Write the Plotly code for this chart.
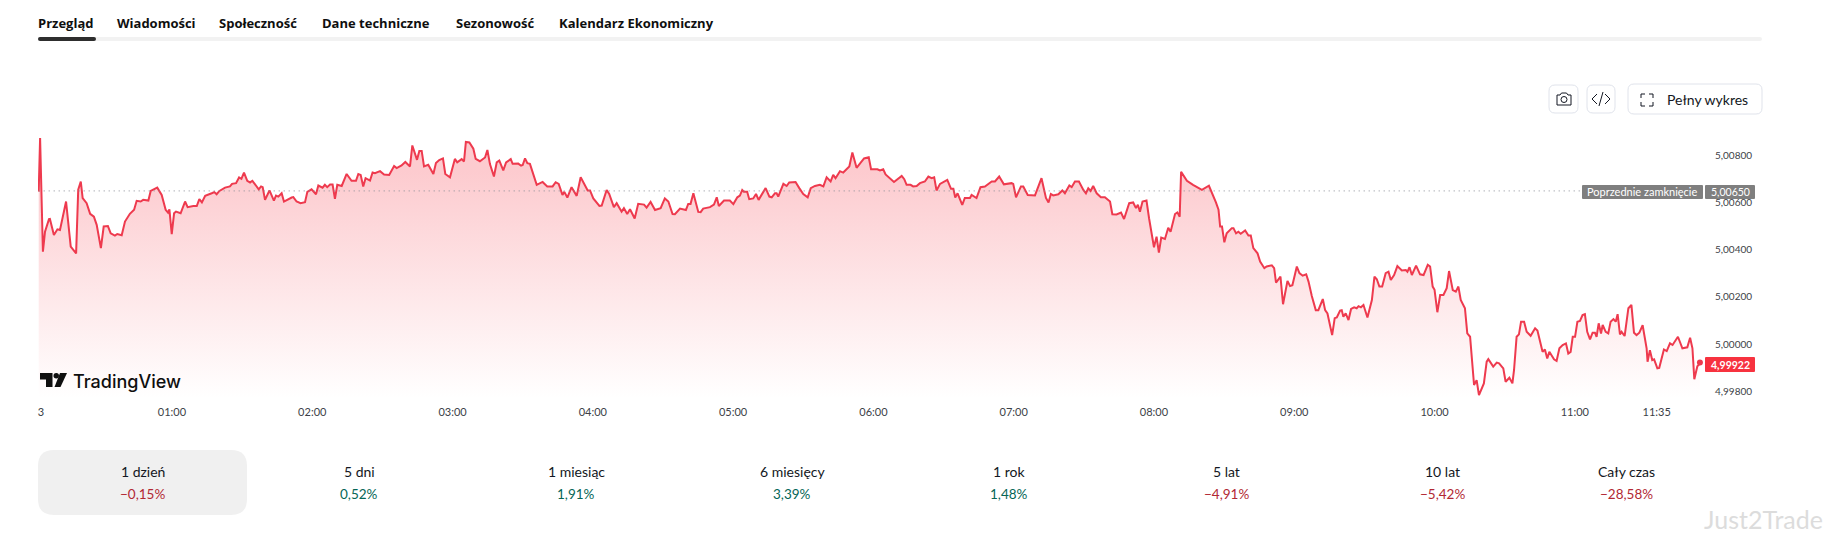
import plotly.graph_objects as go

min_a = [3, 3.6, 4.8, 5.7, 7.4, 7.8, 9.5, 11, 12.1, 14.7, 16.7, 19, 19.9, 21, 21.8, 23.5, 25, 26.6, 27.8, 29, 29.6, 30.8, 32.6, 33.8, 35.6, 36.6, 38.5, 39.9, 42, 43.8, 44.9, 46.6, 47.7, 49.9, 50.9, 53.7, 55.6, 57.3, 58.3, 58.9, 59.9, 60.9, 61.7, 63.7, 65.6, 66.7, 67.7]
px_a = [5.00647, 5.00875, 5.00392, 5.00477, 5.0053, 5.00531, 5.00463, 5.00487, 5.00484, 5.00605, 5.00414, 5.00385, 5.00655, 5.0069, 5.0062, 5.00598, 5.00553, 5.00541, 5.00506, 5.00435, 5.00407, 5.00499, 5.00501, 5.0047, 5.0046, 5.00467, 5.00462, 5.0052, 5.00553, 5.0057, 5.00608, 5.00605, 5.00612, 5.00609, 5.0065, 5.00664, 5.00633, 5.0057, 5.00558, 5.00572, 5.00467, 5.00555, 5.00562, 5.00555, 5.00605, 5.00581, 5.00584]

min_b = [69.1, 70.6, 71.7, 72.8, 74.2, 77, 78.1, 79.1, 80.3, 82.7, 84.8, 85.7, 87.4, 88.7, 89.7, 90.8, 92.2, 93.4, 94.4, 97.1, 98.1, 98.8, 99.8, 101.7, 103.6, 104.5, 105.5, 106.9, 107.9, 111.2, 111.9, 113.3, 115, 116.9, 117.9, 119.7, 121.6, 122.6]
px_b = [5.00586, 5.00586, 5.00615, 5.00601, 5.00629, 5.0064, 5.00645, 5.00636, 5.0065, 5.00664, 5.00669, 5.0068, 5.00683, 5.00707, 5.00701, 5.00728, 5.00693, 5.00686, 5.00693, 5.00657, 5.00669, 5.00666, 5.00612, 5.00652, 5.00609, 5.0063, 5.00626, 5.0064, 5.00605, 5.00622, 5.00624, 5.00605, 5.00598, 5.00602, 5.00646, 5.00657, 5.00636, 5.00673]

min_c = [124.4, 125.4, 126.4, 127.6, 128.7, 129.7, 130.7, 132.6, 134.7, 136.8, 138.7, 139.7, 140.7, 141.8, 142.8, 144.7, 145.8, 146.8, 149, 150.7, 152.9, 155, 156.1, 158.2, 159.8, 161.8, 162.8, 164.8, 165.8, 166.8, 167.8, 169.6, 171.8, 172.9, 174.3, 175.9, 176.9, 178.9, 181, 182, 183.9, 184.9, 185.7, 187.2, 188.9, 189.9, 191.7, 193.9, 194.9, 196, 197.7, 198.9, 200, 201.7, 202.9, 204.9, 205.7, 208.1, 209.3, 210, 211, 212, 213.1]
px_c = [5.00664, 5.00676, 5.00666, 5.00677, 5.00677, 5.00616, 5.00676, 5.00671, 5.00722, 5.00693, 5.00693, 5.00722, 5.00718, 5.00669, 5.00704, 5.00694, 5.00728, 5.00725, 5.00734, 5.0072, 5.00718, 5.00756, 5.00747, 5.00758, 5.00773, 5.00754, 5.00843, 5.00782, 5.0082, 5.0082, 5.00754, 5.00761, 5.00722, 5.00768, 5.00781, 5.00788, 5.00722, 5.00708, 5.00786, 5.00771, 5.00785, 5.00775, 5.00858, 5.00856, 5.00829, 5.00786, 5.00776, 5.00792, 5.00824, 5.00764, 5.00711, 5.00771, 5.00779, 5.00737, 5.00771, 5.00785, 5.00765, 5.00766, 5.00757, 5.0076, 5.00788, 5.00768, 5.00765]

min_d = [216, 218.5, 220.5, 222.8, 224.1, 225.4, 227, 227.8, 229.1, 230.9, 233.1, 234.8, 237.8, 238.8, 240.2, 242.8, 243.8, 245.9, 247, 249, 250.2, 251.6, 252.3, 253.3, 254.7, 255.9, 257.9, 259.4, 261.9, 263, 264.7, 266.6, 269, 270.8, 272.3, 274.1, 275.1, 277.3, 279.8, 280.8, 281.8, 283, 285.1, 286.1, 287.2, 290.1, 291.8, 293, 293.9, 296.1, 298.6, 300.1]
px_d = [5.00676, 5.00688, 5.00669, 5.00669, 5.00687, 5.0068, 5.00633, 5.00646, 5.00622, 5.00666, 5.00629, 5.00708, 5.00652, 5.00652, 5.00618, 5.00586, 5.00588, 5.00654, 5.00637, 5.00581, 5.00598, 5.00575, 5.00562, 5.00577, 5.00552, 5.00572, 5.00533, 5.00595, 5.00592, 5.00579, 5.00603, 5.00569, 5.00577, 5.00618, 5.00605, 5.00552, 5.00551, 5.00575, 5.00569, 5.00595, 5.00595, 5.0064, 5.00561, 5.0056, 5.00575, 5.00581, 5.00592, 5.00623, 5.00586, 5.00609, 5.00609, 5.00594]

min_e = [301.8, 302.9, 303.9, 304.6, 306, 306.9, 308.6, 309.8, 310.9, 313.9, 315.5, 316.5, 317.9, 318.6, 319.3, 321.5, 322.9, 324, 326.7, 328.3, 330, 331.9, 333.2, 335, 337.1, 338.6, 340, 341.7, 342.8, 343.8, 345.7, 347.1, 349.7, 351, 352.8, 356, 358, 359, 361.7, 362.8, 364.2, 365.2, 368.8, 372.1, 373.2, 374.2, 375.9, 377, 378.5, 379.9]
px_e = [5.00623, 5.0063, 5.00654, 5.00647, 5.00647, 5.00615, 5.00618, 5.00637, 5.00612, 5.00662, 5.00626, 5.00623, 5.0064, 5.0064, 5.00626, 5.0068, 5.00671, 5.00686, 5.00688, 5.00662, 5.00637, 5.00623, 5.00662, 5.00671, 5.00676, 5.00669, 5.00708, 5.0069, 5.00718, 5.00704, 5.00734, 5.00728, 5.00754, 5.00813, 5.00748, 5.00788, 5.00793, 5.00742, 5.00742, 5.00737, 5.00742, 5.0072, 5.00688, 5.00714, 5.007, 5.00676, 5.00676, 5.00669, 5.00671, 5.00683]

min_f = [382, 383.5, 384.9, 386, 387, 388.5, 391.6, 393.2, 394.2, 395, 396, 398, 399.1, 401.3, 402, 404.1, 405.8, 407.7, 410.6, 412, 413.8, 415.8, 419.1, 419.8, 421, 423.1, 424.1, 426, 429.1, 431.9, 433.8, 434.9, 435.9, 436.9, 439.1, 440.8, 441.9, 443.8, 444.8, 446.2, 447.9, 449.8, 450.9, 451.9, 452.9, 454, 455.5, 457.3, 459, 461.2, 462.2, 464, 465.9, 467.2, 469.4, 471.1, 472.3, 473.1, 474, 475.1, 476.8, 477.9]
px_f = [5.0069, 5.00711, 5.00704, 5.00708, 5.00652, 5.0068, 5.00697, 5.00659, 5.00659, 5.00622, 5.0064, 5.00591, 5.0062, 5.0062, 5.00633, 5.0062, 5.00666, 5.00669, 5.0069, 5.0069, 5.00711, 5.00678, 5.00683, 5.0068, 5.00623, 5.00669, 5.00669, 5.00633, 5.00631, 5.00704, 5.0062, 5.00601, 5.00637, 5.00631, 5.00636, 5.00652, 5.0064, 5.00673, 5.00666, 5.0069, 5.0069, 5.00654, 5.0064, 5.00661, 5.0065, 5.00671, 5.0064, 5.00623, 5.00623, 5.00605, 5.00551, 5.0055, 5.00558, 5.00531, 5.00598, 5.00601, 5.00577, 5.00591, 5.00562, 5.00605, 5.00609, 5.00534]

min_g = [480, 481.1, 482.1, 483.1, 484.7, 486.1, 487.1, 489, 490, 491, 491.6, 494.1, 496.7, 500.5, 503.5, 506.5, 507.6, 508.3, 509.1, 510.1, 511.1, 513.3, 514, 515.1, 516.1, 517.1, 519, 520.4, 521.4, 522.5, 524.3, 525.4, 527.2, 528.2, 530.4, 531.4, 532.2, 534.1, 535.2, 537.1, 538.2, 539.2, 541.1, 542.2, 543.6, 545.1, 546.1, 547.5, 549.2, 550.3, 552.2, 553.2, 554.2, 556.2, 557.3, 558.2, 559.6, 560.3, 561, 562, 563.2, 564.3, 565.6, 566.7, 567.5, 568.5, 569.6, 571.3]
px_g = [5.00411, 5.00456, 5.00388, 5.00452, 5.00446, 5.00494, 5.00477, 5.00552, 5.00559, 5.0054, 5.00731, 5.00693, 5.00676, 5.00655, 5.00672, 5.00601, 5.0057, 5.00499, 5.00499, 5.00432, 5.0047, 5.00492, 5.00492, 5.0047, 5.00477, 5.00468, 5.00482, 5.00461, 5.00461, 5.00407, 5.00385, 5.0035, 5.00322, 5.00329, 5.00334, 5.00322, 5.00261, 5.00286, 5.00169, 5.00268, 5.00246, 5.0025, 5.00329, 5.00301, 5.0029, 5.00296, 5.00265, 5.00204, 5.00144, 5.00144, 5.00191, 5.00144, 5.0013, 5.00038, 5.0011, 5.00113, 5.00142, 5.00144, 5.00116, 5.0013, 5.00102, 5.00149, 5.00156, 5.00152, 5.00161, 5.00156, 5.00166, 5.00113]

min_h = [573.2, 574.3, 575.3, 576.4, 577.6, 579.1, 580.3, 581.3, 582.7, 584.1, 586, 587.7, 588.4, 589.3, 590.3, 592.1, 593.8, 595.3, 597.1, 598.1, 599.2, 600, 601.2, 602.4, 603.8, 605.2, 606.2, 607.8, 609.1, 610.2, 611.2, 613, 614, 615.2, 616.9, 618, 619, 621.1, 622.3, 623, 625.1, 626.6, 627.6, 629.4, 630.4, 632, 633.3, 634, 635.1, 636.1, 637, 638.3, 639.4, 641.1, 643, 644, 646.2, 647.2, 648.2, 649.1, 651.1, 652.2, 653.4, 654.8, 656.2, 657.2, 658.2, 659.1]
px_h = [5.00187, 5.00286, 5.00275, 5.00244, 5.00244, 5.00301, 5.00307, 5.00272, 5.00293, 5.00331, 5.00312, 5.00314, 5.00307, 5.00326, 5.00293, 5.00333, 5.00296, 5.00293, 5.00336, 5.00329, 5.00244, 5.0023, 5.00135, 5.00208, 5.00208, 5.00237, 5.0031, 5.00229, 5.00222, 5.00244, 5.00187, 5.00152, 5.00045, 5.00031, 4.99826, 4.99847, 4.99783, 4.99833, 4.99925, 4.99936, 4.99904, 4.99921, 4.99918, 4.99897, 4.9984, 4.99857, 4.99833, 4.9989, 5.00031, 5.00041, 5.00095, 5.00095, 5.00052, 5.00035, 5.00067, 5.00057, 4.99967, 4.99977, 4.99939, 4.99967, 4.99935, 4.99928, 4.99982, 4.99996, 5.00003, 4.9996, 4.99967, 5.00031]

min_i = [660.1, 661.1, 662.2, 663.3, 664.3, 665.3, 666.5, 667.6, 668.6, 669.3, 670.2, 671.2, 671.9, 673.2, 674.3, 675.3, 676.5, 677.5, 678.3, 679.3, 680, 681.3, 682.9, 684.2, 685.3, 686.4, 687.6, 689, 690.7, 691.1, 692.1, 693.1, 693.9, 695.3, 696.1, 698.1, 699.3, 700.7, 701.8, 704.1, 706, 708.1, 709.3, 710.3, 711.1, 712.4, 713.5]
px_i = [5.00031, 5.00095, 5.00098, 5.00123, 5.00127, 5.00052, 5.0002, 5.00048, 5.00048, 5.00031, 5.00088, 5.00045, 5.00081, 5.00052, 5.00045, 5.00095, 5.00106, 5.00095, 5.00127, 5.00041, 5.00052, 5.00034, 5.00152, 5.00166, 5.00048, 5.00038, 5.00048, 5.0008, 4.99982, 4.99925, 4.99974, 4.99932, 4.99935, 4.99897, 4.99899, 4.99977, 4.9997, 5.00003, 4.99996, 5.00031, 4.99982, 4.99986, 5.00027, 4.99982, 4.99851, 4.99906, 4.99917]

prev_close = 5.0065
last_price = 4.99922

time_ticks = [4, 60, 120, 180, 240, 300, 360, 420, 480, 540, 600, 660, 695]
time_labels = ["3", "01:00", "02:00", "03:00", "04:00", "05:00", "06:00", "07:00", "08:00", "09:00", "10:00", "11:00", "11:35"]
price_ticks = [4.998, 5.0, 5.002, 5.004, 5.006, 5.008]

tabs = ["Przegląd", "Wiadomości", "Społeczność", "Dane techniczne", "Sezonowość", "Kalendarz Ekonomiczny"]
tab_left = [38, 117, 219, 322, 456, 559]

periods = ["1 dzień", "5 dni", "1 miesiąc", "6 miesięcy", "1 rok", "5 lat", "10 lat", "Cały czas"]
changes = ["−0,15%", "0,52%", "1,91%", "3,39%", "1,48%", "−4,91%", "−5,42%", "−28,58%"]
period_x = [142.5, 359, 576, 792, 1009, 1226, 1442, 1626]

minutes = min_a + min_b + min_c + min_d + min_e + min_f + min_g + min_h + min_i
prices = px_a + px_b + px_c + px_d + px_e + px_f + px_g + px_h + px_i
assert len(minutes) == len(prices)

# the page has an 8px body margin, so everything is shifted by that
W, H = 1830, 533
def fx(x):
    return (x - 8) / W
def fy(y):
    return 1 - (y - 8) / H
def pt(x, y):
    return f"{fx(x)},{fy(y)}"

def rrect(x0, y0, x1, y1, r):
    return (f"M{pt(x0 + r, y0)} L{pt(x1 - r, y0)} Q{pt(x1, y0)} {pt(x1, y0 + r)} "
            f"L{pt(x1, y1 - r)} Q{pt(x1, y1)} {pt(x1 - r, y1)} "
            f"L{pt(x0 + r, y1)} Q{pt(x0, y1)} {pt(x0, y1 - r)} "
            f"L{pt(x0, y0 + r)} Q{pt(x0, y0)} {pt(x0 + r, y0)} Z")

def poly(points, close=False):
    s = "M" + " L".join(pt(x, y) for x, y in points)
    return s + (" Z" if close else "")

shapes = []
def add_path(path, fill="rgba(0,0,0,0)", line=None, width=1):
    shapes.append(dict(type="path", xref="paper", yref="paper", path=path, fillcolor=fill,
                       line=dict(color=line or "rgba(0,0,0,0)", width=width), layer="above"))

annotations = []
def add_text(x, y, text, size=13, color="#131722", family="Lato", anchor="center", weight=None):
    font = dict(size=size, color=color, family=family)
    if weight:
        font["weight"] = weight
    annotations.append(dict(xref="paper", yref="paper", x=fx(x), y=fy(y), text=text, showarrow=False,
                            xanchor=anchor, yanchor="middle", font=font, borderpad=0, borderwidth=0))

fig = go.Figure()

fig.add_trace(go.Scatter(
    x=minutes, y=prices, mode="lines", fill="tozeroy",
    line=dict(color="#ee3a4e", width=2),
    fillgradient=dict(type="vertical", start=5.0073, stop=4.9977,
                      colorscale=[[0, "rgba(247,82,95,0.3)"], [1, "rgba(247,82,95,0)"]]),
    hoverinfo="skip", showlegend=False))
fig.add_trace(go.Scatter(
    x=[minutes[-1]], y=[last_price], mode="markers",
    marker=dict(color="#ee3a4e", size=6), hoverinfo="skip", showlegend=False))

# dotted previous close level
shapes.append(dict(type="line", xref="x", yref="y", x0=minutes[0], x1=664, y0=prev_close, y1=prev_close,
                   line=dict(color="#8a8d96", width=1, dash="1px,4px"), layer="above"))

# tabs
for t, x in zip(tabs, tab_left):
    add_text(x, 23, t, size=13, family="Open Sans", anchor="left", weight=700, color="#0f0f0f")
add_path(rrect(38, 37, 1762, 41, 2), fill="#f2f2f2")
add_path(rrect(38, 37, 96, 41, 2), fill="#2e2e2e")

# buttons top right
add_path(rrect(1549, 85, 1578, 113, 6), line="#e0e3eb")
add_path(rrect(1587, 85, 1615, 113, 6), line="#e0e3eb")
add_path(rrect(1628, 84, 1762, 114, 6), line="#e0e3eb")
add_path(poly([(1557, 95), (1560, 95), (1561.5, 93), (1566.5, 93), (1568, 95), (1571, 95), (1571, 105), (1557, 105)], close=True), line="#131722")
add_path(rrect(1561, 96.5, 1567, 102.5, 3), line="#131722")
add_path(poly([(1597, 94), (1592, 99), (1597, 104)]), line="#131722")
add_path(poly([(1605, 94), (1610, 99), (1605, 104)]), line="#131722")
add_path(poly([(1603, 92), (1599, 106)]), line="#131722")
for cx, cy, dx, dy in [(1641, 94, 1, 1), (1653, 94, -1, 1), (1641, 106, 1, -1), (1653, 106, -1, -1)]:
    add_path(poly([(cx, cy + 4 * dy), (cx, cy), (cx + 4 * dx, cy)]), line="#131722")
add_text(1667, 100, "Pełny wykres", size=14, anchor="left")

# price labels on the right
add_path(rrect(1582, 185, 1703, 199, 1), fill="#7f7f7f")
add_path(rrect(1705, 185, 1755, 199, 1), fill="#7f7f7f")
add_text(1642.5, 192, "Poprzednie zamknięcie", size=11, color="#ffffff")
add_text(1730, 192, "5,00650", size=10.5, color="#ffffff")
add_path(rrect(1705, 357, 1755, 372, 1), fill="#f7323f")
add_text(1730, 364.5, "4,99922", size=10.5, color="#ffffff", weight=700)

# TradingView logo
add_path(poly([(40, 373), (52.5, 373), (52.5, 387), (46, 387), (46, 379.5), (40, 379.5)], close=True), fill="#0f0f0f")
add_path(rrect(53.5, 373, 59, 378.5, 2.7), fill="#0f0f0f")
add_path(poly([(60, 373), (67, 373), (60.5, 387), (54.5, 387)], close=True), fill="#0f0f0f")
add_text(73, 381, "TradingView", size=18, family="Inter", anchor="left", weight=500, color="#0f0f0f")

# period cards
add_path(rrect(38, 450, 247, 515, 16), fill="#f0f0f0")
for label, change, x in zip(periods, changes, period_x):
    add_text(x, 471, label, size=14)
    add_text(x, 494, change, size=13.5, color="#b22833" if change.startswith("−") else "#056656")

add_text(1763, 519, "Just2Trade", size=25, color="#dcdcdc")

fig.update_layout(
    width=W, height=H, autosize=False,
    margin=dict(l=0, r=0, t=0, b=0),
    paper_bgcolor="#ffffff", plot_bgcolor="rgba(0,0,0,0)",
    separators=", ",
    shapes=shapes, annotations=annotations,
    xaxis=dict(domain=[fx(38), fx(1706)], range=[2.7, 716.1], tickmode="array",
               tickvals=time_ticks, ticktext=time_labels, showgrid=False, zeroline=False,
               showline=False, ticks="", tickfont=dict(family="Lato", size=11, color="#3c3f47"),
               ticklabelstandoff=6),
    yaxis=dict(domain=[fy(398), fy(108)], range=[4.99771, 5.01002], side="right", anchor="x",
               tickmode="array", tickvals=price_ticks, tickformat=".5f", showgrid=False, zeroline=False,
               showline=False, ticks="", tickfont=dict(family="Lato", size=10, color="#3c3f47"),
               ticklabelstandoff=8),
)

fig.write_html("out.html")
